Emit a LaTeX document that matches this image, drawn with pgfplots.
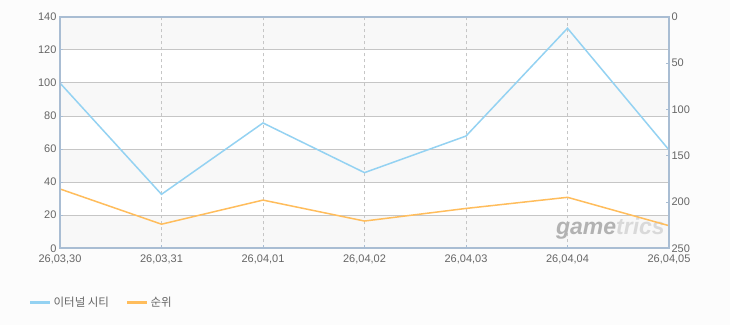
\documentclass[border=0pt]{standalone}
\usepackage{pgfplots}
\pgfplotsset{compat=1.18}
\usepackage{fontspec}
\setmainfont{Liberation Sans}
\newfontfamily\kr{Noto Sans CJK KR}
\definecolor{bg}{HTML}{FCFCFC}
\definecolor{band}{HTML}{F8F8F8}
\definecolor{frame}{HTML}{A9BDD3}
\definecolor{gridc}{HTML}{C6C6C6}
\definecolor{lblue}{HTML}{94D2F2}
\definecolor{lorange}{HTML}{FFBD5C}
\definecolor{txt}{HTML}{666666}
\begin{document}
\begin{tikzpicture}[x=1pt,y=1pt]
\fill[bg] (0,0) rectangle (730,325);
\pgfplotsset{
  every axis/.append style={
    scale only axis, width=609pt, height=231.8pt,
    at={(60pt,76.7pt)}, anchor=south west,
    xmin=0, xmax=6,
    tick label style={font=\fontsize{11}{13}\selectfont, text=txt},
    /pgf/number format/assume math mode=true,
    major tick length=3pt,
    tick style={frame, line width=0.6pt},
  }
}
% background bands
\begin{axis}[ymin=0, ymax=140, hide axis]
\addplot[draw=none, fill=white] coordinates {(0,0) (6,0) (6,140) (0,140)} -- cycle;
\addplot[draw=none, fill=band] coordinates {(0,0) (6,0) (6,20) (0,20)} -- cycle;
\addplot[draw=none, fill=band] coordinates {(0,40) (6,40) (6,60) (0,60)} -- cycle;
\addplot[draw=none, fill=band] coordinates {(0,80) (6,80) (6,100) (0,100)} -- cycle;
\addplot[draw=none, fill=band] coordinates {(0,120) (6,120) (6,140) (0,140)} -- cycle;
\end{axis}
\begin{axis}[
  ymin=0, ymax=140, ytick={0,20,...,140},
  axis line style={frame},
  xtick pos=bottom, ytick pos=left,
  xtick={0,...,6},
  xticklabels={26{,}03{,}30,26{,}03{,}31,26{,}04{,}01,26{,}04{,}02,26{,}04{,}03,26{,}04{,}04,26{,}04{,}05},
  x tick label style={yshift=-3pt},
  ymajorgrids, xmajorgrids,
  major grid style={gridc, line width=0.6pt},
  major x grid style={gridc, dashed, line width=0.5pt},
  clip=false,
]
\node[anchor=south east, font=\bfseries\itshape\fontsize{23}{24}\selectfont, inner sep=0pt] at (axis cs:5.96,5.5) {\textcolor{gray!60}{game}\textcolor{gray!30}{trics}};
\addplot[lblue, line width=1.5pt] coordinates {
 (0,99.8) (1,32.6) (2,75.7) (3,45.7) (4,67.8) (5,132.9) (6,59.4)};
\end{axis}
\begin{axis}[
  ymin=0, ymax=250, y dir=reverse, ytick={0,50,...,250},
  axis y line*=right, axis x line=none,
  axis line style={frame},
  y tick label style={anchor=west, xshift=-1pt},
  legend columns=2,
  legend style={at={(-0.056,-0.233)}, anchor=west, draw=none, fill=none,
    font=\kr\fontsize{11.5}{13}\selectfont, text=txt,
    /tikz/every even column/.append style={column sep=15pt}},
  legend image code/.code={\draw[#1, line width=2.5pt] (0pt,0pt) -- (20pt,0pt);},
  clip=false,
]
\addlegendimage{lblue}
\addlegendentry{이터널 시티}
\addplot[lorange, line width=1.5pt] coordinates {
 (0,186) (1,224) (2,198) (3,220.6) (4,207) (5,195) (6,225.6)};
\addlegendentry{순위}
\draw[frame, line width=2pt] (rel axis cs:0,0) rectangle (rel axis cs:1,1);
\end{axis}
\end{tikzpicture}
\end{document}
